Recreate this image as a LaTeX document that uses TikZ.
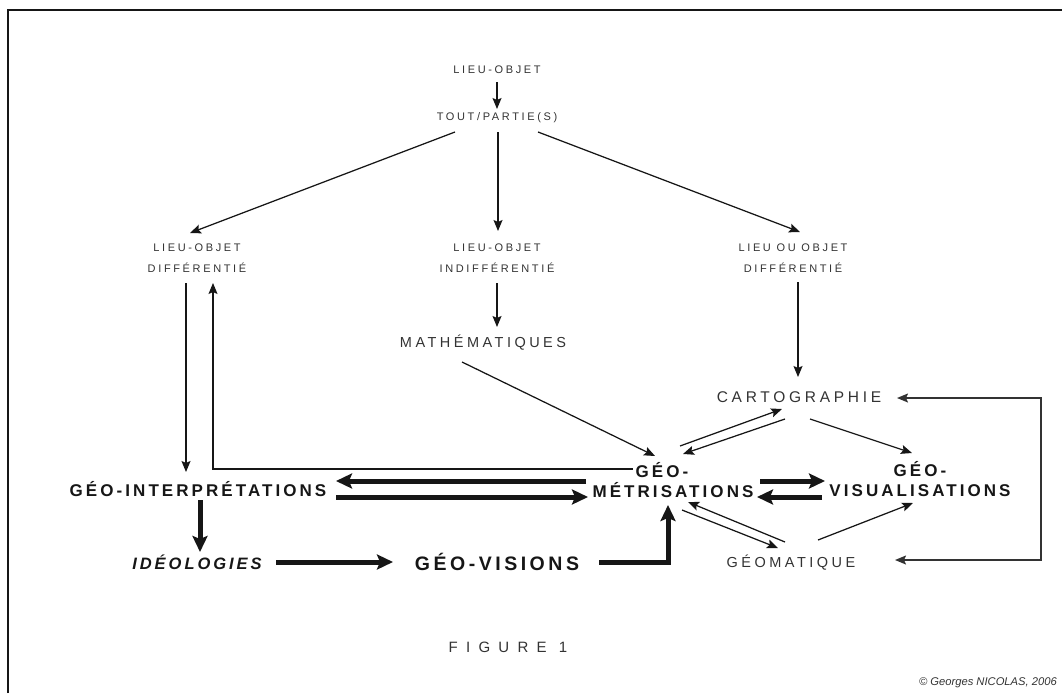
\documentclass[tikz,border=0pt]{standalone}
\usepackage{fontspec}
\usetikzlibrary{arrows.meta,calc}
\setmainfont{Liberation Sans}
\newfontfamily\lsA[LetterSpace=24]{Liberation Sans}
\newfontfamily\lsB[LetterSpace=18]{Liberation Sans}
\newfontfamily\lsC[LetterSpace=55]{Liberation Sans}
\definecolor{ink}{HTML}{161616}
\definecolor{grayink}{HTML}{333333}
\begin{document}
\begin{tikzpicture}[x=1pt,y=-1pt,
  lbl/.style={inner sep=0pt,text=grayink,align=center},
  small/.style={lbl,font=\lsA\fontsize{11}{21}\selectfont},
  mid/.style={lbl,font=\lsA\fontsize{14.5}{17}\selectfont},
  big/.style={lbl,text=ink,font=\lsB\bfseries\fontsize{17}{20}\selectfont},
  thin/.style={draw=ink,line width=1.25pt,-{Stealth[length=11pt,width=9pt,inset=2pt]}},
  thick/.style={draw=ink,line width=5pt,-{Stealth[length=16pt,width=15pt,inset=3pt]}}]
\useasboundingbox (0,0) rectangle (1062,693);
\draw[line width=2.5pt,ink] (8,693) -- (8,10) -- (1062,10);

\node[small] (lo) at (497,70) {LIEU-OBJET};
\node[small] (tp) at (497,118) {TOUT/PARTIE(S)};
\node[small] (ld) at (197,258) {LIEU-OBJET\\DIFFÉRENTIÉ};
\node[small] (li) at (497,258) {LIEU-OBJET\\INDIFFÉRENTIÉ};
\node[small] (lr) at (793,258) {LIEU OU OBJET\\DIFFÉRENTIÉ};
\node[mid] (math) at (483,343) {MATHÉMATIQUES};
\node[mid,font=\lsA\fontsize{15.5}{17}\selectfont] (carto) at (799,397) {CARTOGRAPHIE};
\node[mid] (geom) at (791,563) {GÉOMATIQUE};
\node[big] (gm) at (673,480) {GÉO-\hspace*{22pt}\\MÉTRISATIONS};
\node[big] (gv) at (920,479) {GÉO-\\VISUALISATIONS};
\node[big] (gi) at (198,489) {GÉO-INTERPRÉTATIONS};
\node[big,font=\lsB\bfseries\itshape\fontsize{16.5}{20}\selectfont] (ideo) at (197,562) {IDÉOLOGIES};
\node[big,font=\lsB\bfseries\fontsize{19.5}{22}\selectfont] (gvis) at (497,562) {GÉO-VISIONS};
\node[mid,font=\lsC\fontsize{15}{17}\selectfont] (fig) at (508,647) {FIGURE 1};
\node[lbl,anchor=east,font=\itshape\fontsize{11.2}{12}\selectfont] (copy) at (1057,683) {© Georges NICOLAS, 2006};

% thin connectors
\draw[thin] ($(lo)+(0,12)$) -- ($(tp)+(0,-9)$);
\draw[thin] ($(tp)+(-42,14)$) -- ($(ld)+(-7,-25)$);
\draw[thin] ($(tp)+(1,14)$) -- ($(li)+(1,-27)$);
\draw[thin] ($(tp)+(41,14)$) -- ($(lr)+(7,-26)$);
\draw[thin] ($(li)+(0,25)$) -- ($(math)+(14,-16)$);
\draw[thin] ($(lr)+(5,24)$) -- ($(carto)+(-1,-20)$);
\draw[thin] ($(ld)+(-11,25)$) -- ($(gi)+(-12,-17)$);
\draw[thin] ($(gm)+(-40,-11)$) -| ($(ld)+(16,25)$);
\draw[thin] ($(math)+(-21,19)$) -- ($(gm)+(-18,-24)$);
\draw[thin] ($(gm)+(7,-34)$) -- ($(carto)+(-17,12)$);
\draw[thin] ($(carto)+(-14,22)$) -- ($(gm)+(10,-26)$);
\draw[thin] ($(carto)+(11,22)$) -- ($(gv)+(-8,-26)$);
\draw[thin] ($(geom)+(27,-23)$) -- ($(gv)+(-7,24)$);
\draw[thin] ($(geom)+(-6,-21)$) -- ($(gm)+(15,22)$);
\draw[thin] ($(gm)+(9,30)$) -- ($(geom)+(-13,-15)$);
\draw[thin,draw=grayink,line width=1.4pt,{Stealth[length=11pt,width=9pt,inset=2pt]}-{Stealth[length=11pt,width=9pt,inset=2pt]}]
  ($(carto)+(98,1)$) -- ($(carto)+(242,1)$) |- ($(geom)+(104,-3)$);

% thick connectors
\draw[thick] ($(gm)+(-87,1)$) -- ($(gi)+(138,-8)$);
\draw[thick] ($(gi)+(138,8)$) -- ($(gm)+(-85,17)$);
\draw[thick] ($(gi)+(2,11)$) -- ($(ideo)+(3,-10)$);
\draw[thick] ($(ideo)+(79,0)$) -- ($(gvis)+(-104,0)$);
\draw[thick] ($(gvis)+(102,0)$) -| ($(gm)+(-5,25)$);
\draw[thick] ($(gm)+(87,1)$) -- ($(gv)+(-95,2)$);
\draw[thick] ($(gv)+(-98,18)$) -- ($(gm)+(84,17)$);
\end{tikzpicture}
\end{document}
